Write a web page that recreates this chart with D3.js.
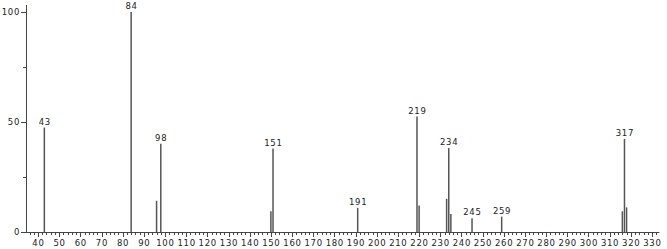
<!DOCTYPE html>
<html>
<head>
<meta charset="utf-8">
<script src="https://cdn.jsdelivr.net/npm/d3@7"></script>
<style>
  body { margin: 0; background: #fff; }
  svg { display: block; }
</style>
</head>
<body>
<svg id="chart"></svg>
<script>
// peak positions (m/z) and relative intensities
const mzValues = [43, 84, 96, 98, 150, 151, 191, 219, 220, 233, 234, 235, 245, 259, 316, 317, 318];
const intensities = [47.5, 100, 14.2, 40.1, 9.4, 37.9, 10.9, 52.5, 12.1, 15.1, 38.2, 8.2, 6.2, 7.0, 9.4, 42.3, 11.2];
// peaks that carry a label
const labelledPeaks = [43, 84, 98, 151, 191, 219, 234, 245, 259, 317];
const xTickValues = d3.range(40, 331, 10);
const yTickValues = [0, 50, 100];

const width = 667;
const height = 249;

const svg = d3.select('#chart')
  .attr('width', width)
  .attr('height', height)
  .attr('font-family', '"DejaVu Sans", sans-serif')
  .attr('font-size', 8.5)
  .attr('letter-spacing', '0.7px');

// 40 -> 38px, 330 -> 652px ; 0 -> 232px, 100 -> 12px
const x = d3.scaleLinear().domain([40, 330]).range([38, 652]);
const y = d3.scaleLinear().domain([0, 100]).range([232, 12]);
const axisColor = '#444';

// x axis line
svg.append('line')
  .attr('x1', 22).attr('x2', x(333.5))
  .attr('y1', y(0) + 0.5).attr('y2', y(0) + 0.5)
  .attr('stroke', axisColor);

// minor ticks every 2 units, major every 10
svg.append('g')
  .selectAll('line')
  .data(d3.range(36, 334, 2))
  .join('line')
  .attr('x1', d => Math.round(x(d)) + 0.5)
  .attr('x2', d => Math.round(x(d)) + 0.5)
  .attr('y1', y(0))
  .attr('y2', d => y(0) + (d % 10 === 0 ? 5 : 3))
  .attr('stroke', axisColor);

svg.append('g')
  .selectAll('text')
  .data(xTickValues)
  .join('text')
  .attr('x', d => x(d) + 0.4)
  .attr('y', 246)
  .attr('text-anchor', 'middle')
  .attr('fill', '#222')
  .text(d => d);

// y axis
svg.append('line')
  .attr('x1', 26.5).attr('x2', 26.5)
  .attr('y1', 5).attr('y2', y(0))
  .attr('stroke', axisColor);

svg.append('g')
  .selectAll('line')
  .data([0, 25, 50, 75, 100])
  .join('line')
  .attr('x1', d => d % 50 === 0 ? 21 : 23)
  .attr('x2', 26)
  .attr('y1', d => Math.round(y(d)) + 0.5)
  .attr('y2', d => Math.round(y(d)) + 0.5)
  .attr('stroke', axisColor);

svg.append('g')
  .selectAll('text')
  .data(yTickValues)
  .join('text')
  .attr('x', 20)
  .attr('y', d => y(d) + 3)
  .attr('text-anchor', 'end')
  .attr('fill', '#222')
  .text(d => d);

// peaks
const peaks = mzValues.map((mz, i) => ({ mz, value: intensities[i] }));

svg.append('g')
  .selectAll('line')
  .data(peaks)
  .join('line')
  .attr('x1', d => x(d.mz))
  .attr('x2', d => x(d.mz))
  .attr('y1', y(0))
  .attr('y2', d => y(d.value))
  .attr('stroke', '#555')
  .attr('stroke-width', 1.5);

svg.append('g')
  .selectAll('text')
  .data(peaks.filter(d => labelledPeaks.includes(d.mz)))
  .join('text')
  .attr('x', d => x(d.mz) + 0.4)
  .attr('y', d => y(d.value) - 3)
  .attr('text-anchor', 'middle')
  .attr('fill', '#222')
  .text(d => d.mz);
</script>
</body>
</html>
